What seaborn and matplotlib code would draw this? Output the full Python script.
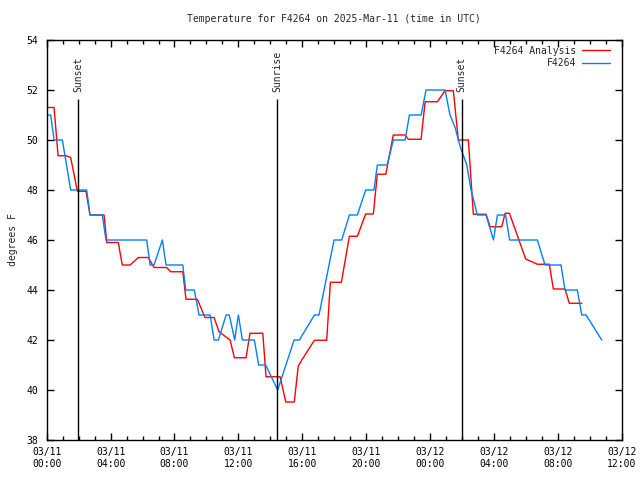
import pandas as pd
import matplotlib
matplotlib.use('Agg')
import matplotlib.pyplot as plt
import matplotlib.dates as mdates
import seaborn as sns

# hours after 2025-03-11 00:00 UTC
obs_hours = [0.00, 0.25, 0.46, 0.98, 1.50, 2.50, 2.71, 3.48, 3.71, 6.26, 6.47, 6.72,
             7.24, 7.47, 8.52, 8.70, 9.24, 9.54, 10.23, 10.48, 10.75, 11.23, 11.43,
             11.77, 12.00, 12.25, 13.00, 13.27, 13.71, 14.46, 15.49, 15.82, 16.76,
             17.05, 17.99, 18.47, 18.95, 19.45, 19.97, 20.49, 20.70, 21.32, 21.70,
             22.44, 22.71, 23.44, 23.75, 24.94, 25.25, 25.57, 25.88, 26.30, 26.57,
             26.96, 27.51, 27.97, 28.22, 28.73, 28.98, 30.72, 31.20, 32.20, 32.45,
             33.22, 33.50, 33.77, 34.75]
obs_temp = [51.0, 51.0, 50.0, 50.0, 48.0, 48.0, 47.0, 47.0, 46.0, 46.0, 45.0, 45.0,
            46.0, 45.0, 45.0, 44.0, 44.0, 43.0, 43.0, 42.0, 42.0, 43.0, 43.0,
            42.0, 43.0, 42.0, 42.0, 41.0, 41.0, 40.0, 42.0, 42.0, 43.0,
            43.0, 46.0, 46.0, 47.0, 47.0, 48.0, 48.0, 49.0, 49.0, 50.0,
            50.0, 51.0, 51.0, 52.0, 52.0, 51.0, 50.5, 49.75, 49.0, 48.0,
            47.0, 47.0, 46.0, 47.0, 47.0, 46.0, 46.0, 45.0, 45.0, 44.0,
            44.0, 43.0, 43.0, 42.0]

ana_hours = [0.00, 0.46, 0.71, 1.21, 1.50, 1.92, 2.46, 2.71, 3.59, 3.76, 4.48, 4.73,
             5.22, 5.74, 6.36, 6.72, 7.51, 7.76, 8.52, 8.72, 9.43, 9.91, 10.48,
             10.79, 11.48, 11.75, 12.48, 12.73, 13.53, 13.73, 14.61, 14.97, 15.50,
             15.75, 15.97, 16.76, 17.53, 17.76, 18.45, 18.95, 19.45, 19.97, 20.45,
             20.70, 21.23, 21.70, 22.44, 22.64, 23.44, 23.69, 24.46, 24.94, 25.46,
             25.77, 26.40, 26.71, 27.51, 27.76, 28.49, 28.70, 28.97, 29.99, 30.72,
             31.47, 31.72, 32.45, 32.72, 33.50]
ana_temp = [51.3, 51.3, 49.37, 49.37, 49.3, 47.95, 47.95, 47.0, 47.0, 45.9, 45.9, 45.0,
            45.0, 45.3, 45.3, 44.9, 44.9, 44.73, 44.73, 43.63, 43.63, 42.9, 42.9,
            42.33, 42.0, 41.29, 41.29, 42.27, 42.27, 40.53, 40.53, 39.52, 39.52,
            40.96, 41.2, 41.99, 41.99, 44.31, 44.31, 46.15, 46.15, 47.04, 47.04,
            48.63, 48.63, 50.2, 50.2, 50.03, 50.03, 51.53, 51.53, 51.97, 51.97,
            50.0, 50.0, 47.03, 47.03, 46.53, 46.53, 47.07, 47.07, 45.24, 45.03,
            45.03, 44.04, 44.04, 43.47, 43.47]

sun_labels = ['Sunset', 'Sunrise', 'Sunset']
sun_times = ['2025-03-11 01:59', '2025-03-11 14:26', '2025-03-12 01:59']

start = pd.Timestamp('2025-03-11 00:00')
obs = pd.DataFrame({'time': start + pd.to_timedelta(obs_hours, unit='h'), 'temp': obs_temp})
ana = pd.DataFrame({'time': start + pd.to_timedelta(ana_hours, unit='h'), 'temp': ana_temp})

sns.set_style('ticks')
plt.rcParams['font.family'] = ['DejaVu Sans Mono']
plt.rcParams['font.size'] = 7

fig = plt.figure(figsize=(6.4, 4.8), dpi=100)
ax = fig.add_axes([0.073, 0.0833, 0.8984, 0.8334])

sns.lineplot(data=ana, x='time', y='temp', color='#ff0000', lw=1, label='F4264 Analysis', ax=ax)
sns.lineplot(data=obs, x='time', y='temp', color='#0080ff', lw=1, label='F4264', ax=ax)

# sunset / sunrise markers
for lab, t in zip(sun_labels, sun_times):
    t = pd.Timestamp(t)
    ax.vlines(t, 38, 51.64, color='black', lw=1)
    ax.text(t, 51.92, lab, rotation=90, ha='center', va='bottom', fontsize=7)

ax.set_xlim(pd.Timestamp('2025-03-11 00:00'), pd.Timestamp('2025-03-12 12:00'))
ax.set_ylim(38, 54)
ax.set_yticks(range(38, 55, 2))
ax.xaxis.set_major_locator(mdates.HourLocator(byhour=range(0, 24, 4)))
ax.xaxis.set_minor_locator(mdates.HourLocator())
ax.xaxis.set_major_formatter(mdates.DateFormatter('%m/%d\n%H:%M'))

for s in ax.spines.values():
    s.set_color('black')
    s.set_linewidth(1)
ax.tick_params(which='both', direction='in', top=True, right=True, color='black',
               labelcolor='black', labelsize=7)
ax.tick_params(which='major', length=5, width=1)
ax.tick_params(which='minor', length=3, width=1)
ax.tick_params(axis='y', pad=6)
ax.tick_params(axis='x', pad=5)

ax.set_xlabel('')
ax.set_ylabel('degrees F', fontsize=7, labelpad=6)
ax.set_title('Temperature for F4264 on 2025-Mar-11 (time in UTC)', fontsize=7, pad=13)

ax.legend(loc='upper right', bbox_to_anchor=(0.9913, 1.0025), frameon=False,
          markerfirst=False, fontsize=7, handlelength=2.9, handletextpad=0.6,
          labelspacing=0.25, borderaxespad=0.3)

fig.savefig('out.png', dpi=100)
